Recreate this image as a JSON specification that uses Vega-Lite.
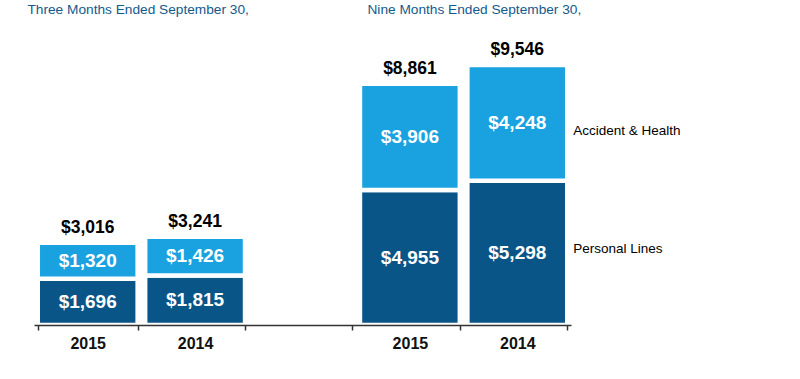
{
  "$schema": "https://vega.github.io/schema/vega-lite/v6.json",
  "width": 537,
  "height": 318.7,
  "autosize": {"type": "none"},
  "padding": {"left": 34, "top": 6.3, "right": 229, "bottom": 54},
  "background": "white",
  "config": {"view": {"stroke": null}, "font": "Liberation Sans"},
  "datasets": {
    "bars": [
      {"cat": "2015a", "seg": "Personal Lines", "ord": 1, "v": 1696},
      {"cat": "2015a", "seg": "Accident & Health", "ord": 2, "v": 1320},
      {"cat": "2014a", "seg": "Personal Lines", "ord": 1, "v": 1815},
      {"cat": "2014a", "seg": "Accident & Health", "ord": 2, "v": 1426},
      {"cat": "2015b", "seg": "Personal Lines", "ord": 1, "v": 4955},
      {"cat": "2015b", "seg": "Accident & Health", "ord": 2, "v": 3906},
      {"cat": "2014b", "seg": "Personal Lines", "ord": 1, "v": 5298},
      {"cat": "2014b", "seg": "Accident & Health", "ord": 2, "v": 4248}
    ],
    "totals": [
      {"cat": "2015a", "t": 3016},
      {"cat": "2014a", "t": 3241},
      {"cat": "2015b", "t": 8861},
      {"cat": "2014b", "t": 9546}
    ],
    "legend": [
      {"cat": "2014b", "label": "Accident & Health", "v": 7122},
      {"cat": "2014b", "label": "Personal Lines", "v": 2790}
    ]
  },
  "layer": [
    {
      "data": {"name": "bars"},
      "mark": {"type": "bar", "stroke": "white", "strokeWidth": 4.5},
      "encoding": {
        "x": {
          "field": "cat",
          "type": "nominal",
          "scale": {"domain": ["2015a", "2014a", "gap", "2015b", "2014b"], "paddingInner": 0.07, "paddingOuter": 0.035},
          "axis": {
            "title": null,
            "zindex": 1,
            "labelExpr": "datum.label == 'gap' ? '' : substring(datum.label, 0, 4)",
            "labelAngle": 0,
            "labelFont": "Liberation Sans",
            "labelFontWeight": "bold",
            "labelFontSize": 16,
            "labelColor": "#111111",
            "labelPadding": 5,
            "domainColor": "#333333",
            "domainWidth": 1.5,
            "tickColor": "#333333",
            "tickWidth": 1.5,
            "tickSize": 5,
            "tickBand": "extent",
            "tickOffset": 3.75,
            "grid": false
          }
        },
        "y": {"field": "v", "type": "quantitative", "stack": "zero", "scale": {"domain": [0, 11700], "nice": false, "zero": true}, "axis": null},
        "order": {"field": "ord", "type": "quantitative"},
        "color": {
          "field": "seg",
          "type": "nominal",
          "scale": {"domain": ["Personal Lines", "Accident & Health"], "range": ["#0a5587", "#1aa2e0"]},
          "legend": null
        }
      }
    },
    {
      "data": {"name": "bars"},
      "mark": {"type": "text", "color": "white", "fontWeight": "bold", "fontSize": 19, "baseline": "middle", "align": "center"},
      "encoding": {
        "x": {"field": "cat", "type": "nominal"},
        "y": {"field": "v", "type": "quantitative", "stack": "zero", "bandPosition": 0.5, "scale": {"domain": [0, 11700], "nice": false}, "axis": null},
        "order": {"field": "ord", "type": "quantitative"},
        "text": {"field": "v", "type": "quantitative", "format": "$,"}
      }
    },
    {
      "data": {"name": "totals"},
      "mark": {"type": "text", "color": "black", "fontWeight": "bold", "fontSize": 17.5, "baseline": "alphabetic", "align": "center", "dy": -10},
      "encoding": {
        "x": {"field": "cat", "type": "nominal"},
        "y": {"field": "t", "type": "quantitative", "scale": {"domain": [0, 11700], "nice": false}, "axis": null},
        "text": {"field": "t", "type": "quantitative", "format": "$,"}
      }
    },
    {
      "data": {"values": [{"cat": "2014a", "label": "Three Months Ended September 30,", "v": 11560}]},
      "mark": {"type": "text", "color": "#135a8c", "fontSize": 13.7, "baseline": "middle", "align": "center", "dx": -7},
      "encoding": {
        "x": {"field": "cat", "type": "nominal", "bandPosition": 0},
        "y": {"field": "v", "type": "quantitative", "scale": {"domain": [0, 11700], "nice": false}, "axis": null},
        "text": {"field": "label"}
      }
    },
    {
      "data": {"values": [{"cat": "2014b", "label": "Nine Months Ended September 30,", "v": 11560}]},
      "mark": {"type": "text", "color": "#135a8c", "fontSize": 13.7, "baseline": "middle", "align": "center", "dx": 7},
      "encoding": {
        "x": {"field": "cat", "type": "nominal", "bandPosition": 0},
        "y": {"field": "v", "type": "quantitative", "scale": {"domain": [0, 11700], "nice": false}, "axis": null},
        "text": {"field": "label"}
      }
    },
    {
      "data": {"name": "legend"},
      "mark": {"type": "text", "color": "black", "fontSize": 13.5, "baseline": "middle", "align": "left", "dx": 6},
      "encoding": {
        "x": {"field": "cat", "type": "nominal", "bandPosition": 1},
        "y": {"field": "v", "type": "quantitative", "scale": {"domain": [0, 11700], "nice": false}, "axis": null},
        "text": {"field": "label"}
      }
    }
  ]
}
